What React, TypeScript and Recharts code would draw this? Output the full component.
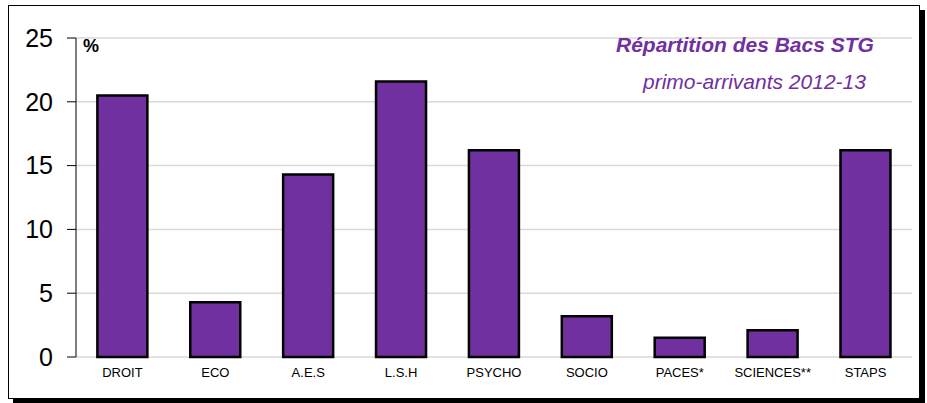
import * as React from 'react';
import { BarChart, Bar, XAxis, YAxis, CartesianGrid } from 'recharts';

// Bacs STG primo-arrivants 2012-13, share per filière (%)
const categories = ['DROIT', 'ECO', 'A.E.S', 'L.S.H', 'PSYCHO', 'SOCIO', 'PACES*', 'SCIENCES**', 'STAPS'];
const values = [20.5, 4.3, 14.3, 21.6, 16.2, 3.2, 1.5, 2.1, 16.2];
const yTicks = [0, 5, 10, 15, 20, 25];
const boundaryTicks = [0, 1, 2, 3, 4, 5, 6, 7, 8, 9];

const PURPLE = '#7030A0';
const FONT = '"Liberation Sans", Arial, sans-serif';

const data = categories.map((name, i) => ({ name, pos: i + 0.5, value: values[i] }));

export default function App() {
  return (
    <div
      style={{
        position: 'absolute',
        left: 8,
        top: 5,
        width: 910,
        height: 392,
        border: '1px solid #000',
        boxShadow: '5px 5px 0 #000',
        background: '#fff',
        fontFamily: FONT,
      }}
    >
      <BarChart
        width={910}
        height={392}
        data={data}
        margin={{ top: 32, right: 7, bottom: 11, left: 0 }}
        barCategoryGap="23%"
      >
        <CartesianGrid vertical={false} stroke="#d9d9d9" strokeWidth={1.5} />
        {/* tick marks between categories */}
        <XAxis
          xAxisId="bounds"
          type="number"
          dataKey="pos"
          domain={[0, 9]}
          ticks={boundaryTicks}
          tick={false}
          height={0}
          tickSize={5}
          stroke="#000"
          allowDataOverflow
        />
        <XAxis
          dataKey="name"
          height={30}
          axisLine={false}
          tickLine={false}
          tickSize={0}
          tickMargin={11}
          interval={0}
          tick={{ fill: '#000', fontSize: 13, fontFamily: FONT }}
        />
        <YAxis
          width={67}
          domain={[0, 25]}
          ticks={yTicks}
          tickSize={9}
          tickMargin={14}
          stroke="#000"
          tick={{ fill: '#000', fontSize: 25, fontFamily: FONT }}
        />
        <Bar dataKey="value" fill={PURPLE} stroke="#000" strokeWidth={2.5} isAnimationActive={false} />
      </BarChart>
      <div style={{ position: 'absolute', left: 74, top: 30, fontSize: 18, fontWeight: 'bold' }}>%</div>
      <div
        style={{
          position: 'absolute',
          left: 607,
          top: 27,
          fontSize: 21,
          fontWeight: 'bold',
          fontStyle: 'italic',
          color: PURPLE,
          whiteSpace: 'nowrap',
        }}
      >
        Répartition des Bacs STG
      </div>
      <div
        style={{
          position: 'absolute',
          left: 634,
          top: 64,
          fontSize: 21,
          fontStyle: 'italic',
          color: PURPLE,
          whiteSpace: 'nowrap',
        }}
      >
        primo-arrivants 2012-13
      </div>
    </div>
  );
}
